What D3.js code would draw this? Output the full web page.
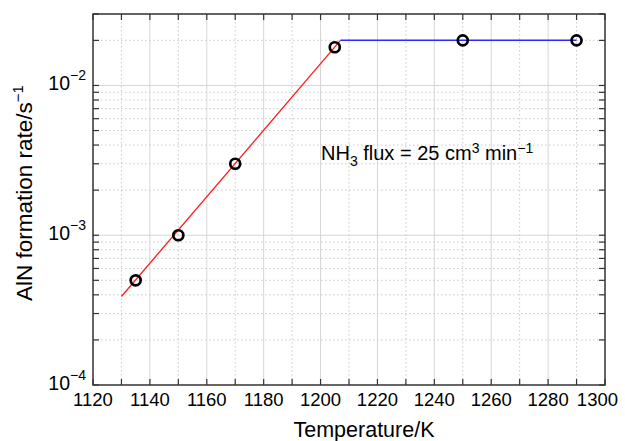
<!DOCTYPE html>
<html>
<head>
<meta charset="utf-8">
<script src="https://d3js.org/d3.v7.min.js"></script>
<style>
body { margin: 0; background: white; }
text { font-family: 'Liberation Sans', Arial, sans-serif; fill: black; }
</style>
</head>
<body>
<svg width="625" height="441"></svg>
<script>
// measured points
const temps = [1135, 1150, 1170, 1205, 1250, 1290]
const rates = [5e-4, 1e-3, 3e-3, 1.8e-2, 2e-2, 2e-2]
// fitted lines
const redFit = [[1130, 3.9e-4], [1207, 2e-2]]
const blueFit = [[1207, 2e-2], [1290, 2e-2]]
const xTicks = [1120, 1140, 1160, 1180, 1200, 1220, 1240, 1260, 1280, 1300]
const yDecades = [-4, -3, -2]

const pL = 93, pT = 14, pR = 605, pB = 385
const svg = d3.select('svg')
const x = d3.scaleLinear().domain([1120, 1300]).range([pL, pR])
const y = d3.scaleLog().domain([1e-4, 3e-2]).range([pB, pT])

// minor values
const xMinor = d3.range(1130, 1300, 20)
const yMinor = []
yDecades.forEach(e => { for (let m = 2; m <= 9; m++) { const v = m * Math.pow(10, e); if (v <= 3e-2) yMinor.push(v) } })
const yMajor = yDecades.map(e => Math.pow(10, e))

const g = svg.append('g')
// grid
g.selectAll('.xg').data(xMinor).enter().append('line')
  .attr('x1', d => x(d)).attr('x2', d => x(d)).attr('y1', pT).attr('y2', pB)
  .attr('stroke', '#bbb').attr('stroke-width', 0.8).attr('stroke-dasharray', '1.5,2.5')
g.selectAll('.yg').data(yMinor).enter().append('line')
  .attr('y1', d => y(d)).attr('y2', d => y(d)).attr('x1', pL).attr('x2', pR)
  .attr('stroke', '#bbb').attr('stroke-width', 0.8).attr('stroke-dasharray', '1.5,2.5')
g.selectAll('.xG').data(xTicks.slice(1, -1)).enter().append('line')
  .attr('x1', d => x(d)).attr('x2', d => x(d)).attr('y1', pT).attr('y2', pB)
  .attr('stroke', '#d6d6d6').attr('stroke-width', 1)
g.selectAll('.yG').data(yMajor.slice(1)).enter().append('line')
  .attr('y1', d => y(d)).attr('y2', d => y(d)).attr('x1', pL).attr('x2', pR)
  .attr('stroke', '#d6d6d6').attr('stroke-width', 1)

// ticks (inward, all four sides)
const tl = 6
const xAll = xTicks.concat(xMinor)
g.selectAll('.xtb').data(xAll).enter().append('line')
  .attr('x1', d => x(d)).attr('x2', d => x(d)).attr('y1', pB).attr('y2', pB - tl)
  .attr('stroke', '#333').attr('stroke-width', 1.2)
g.selectAll('.xtt').data(xAll).enter().append('line')
  .attr('x1', d => x(d)).attr('x2', d => x(d)).attr('y1', pT).attr('y2', pT + tl)
  .attr('stroke', '#333').attr('stroke-width', 1.2)
const yAll = yMajor.concat(yMinor)
g.selectAll('.ytl').data(yAll).enter().append('line')
  .attr('y1', d => y(d)).attr('y2', d => y(d)).attr('x1', pL).attr('x2', pL + tl)
  .attr('stroke', '#333').attr('stroke-width', 1.2)
g.selectAll('.ytr').data(yAll).enter().append('line')
  .attr('y1', d => y(d)).attr('y2', d => y(d)).attr('x1', pR).attr('x2', pR - tl)
  .attr('stroke', '#333').attr('stroke-width', 1.2)

// frame
g.append('rect').attr('x', pL).attr('y', pT).attr('width', pR - pL).attr('height', pB - pT)
  .attr('fill', 'none').attr('stroke', '#333').attr('stroke-width', 1.5)

// tick labels (last one pulled in to stay inside the page)
g.selectAll('.xl').data(xTicks).enter().append('text')
  .attr('x', d => d === 1300 ? 618 : x(d)).attr('y', 406)
  .attr('text-anchor', d => d === 1300 ? 'end' : 'middle')
  .style('font-size', '18.5px').text(d => d)
yDecades.forEach(e => {
  const t = g.append('text').attr('x', 86).attr('y', y(Math.pow(10, e)) + 5)
    .attr('text-anchor', 'end').style('font-size', '19.5px')
  t.append('tspan').text('10')
  t.append('tspan').attr('dy', -10).style('font-size', '14px').text('\u2212' + (-e))
})

// lines
const line = d3.line().x(d => x(d[0])).y(d => y(d[1]))
g.append('path').datum(redFit).attr('d', line).attr('fill', 'none').attr('stroke', '#ff1a1a').attr('stroke-width', 1.3)
g.append('path').datum(blueFit).attr('d', line).attr('fill', 'none').attr('stroke', '#2a2aff').attr('stroke-width', 1.5)

// markers
g.selectAll('.pt').data(temps).enter().append('circle')
  .attr('cx', d => x(d)).attr('cy', (d, i) => y(rates[i])).attr('r', 5)
  .attr('fill', 'none').attr('stroke', 'black').attr('stroke-width', 2.7)

// annotation
const ann = g.append('text').attr('x', 321).attr('y', 160).style('font-size', '20px')
ann.append('tspan').text('NH')
ann.append('tspan').attr('dy', 6).style('font-size', '14px').text('3')
ann.append('tspan').attr('dy', -6).text(' flux = 25 cm')
ann.append('tspan').attr('dy', -7).style('font-size', '14px').text('3')
ann.append('tspan').attr('dy', 7).text(' min')
ann.append('tspan').attr('dy', -7).style('font-size', '14px').text('\u22121')

// axis titles
svg.append('text').attr('x', 364).attr('y', 437).attr('text-anchor', 'middle')
  .style('font-size', '21.5px').text('Temperature/K')
const yt = svg.append('text').attr('transform', 'translate(32,193) rotate(-90)')
  .attr('text-anchor', 'middle').style('font-size', '22.5px')
yt.append('tspan').text('AlN formation rate/s')
yt.append('tspan').attr('dy', -9).style('font-size', '15px').text('\u22121')
</script>
</body>
</html>
